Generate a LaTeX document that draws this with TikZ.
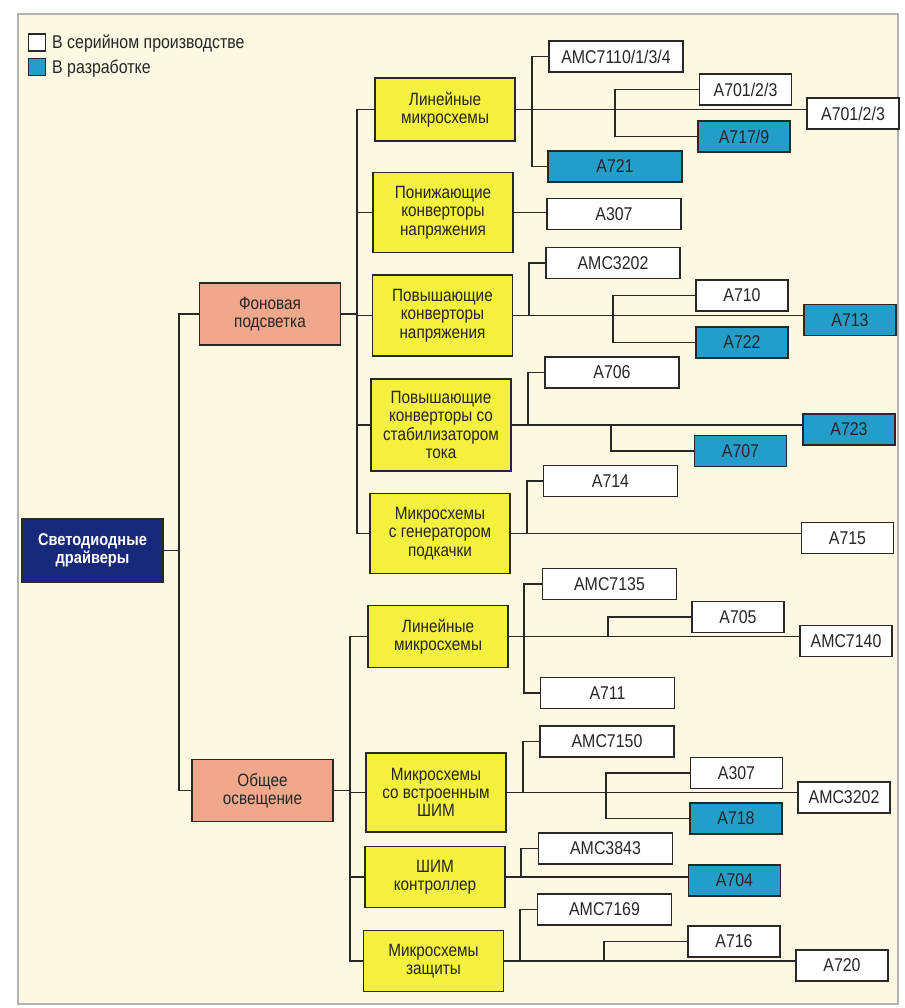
\documentclass[tikz,border=0pt]{standalone}
\usepackage{fontspec}
\setmainfont{Liberation Sans}[FakeStretch=0.86]
\definecolor{bg}{RGB}{252,248,226}
\definecolor{ylw}{RGB}{244,240,62}
\definecolor{slm}{RGB}{240,168,140}
\definecolor{blu}{RGB}{36,158,200}
\definecolor{nvy}{RGB}{24,40,122}
\definecolor{ln}{RGB}{40,40,40}
\definecolor{txt}{RGB}{38,38,38}
\begin{document}
\begin{tikzpicture}[x=1pt,y=-1pt,
  box/.style={draw=ln, line width=1.9, inner sep=0, align=center, text=txt,
    font=\fontsize{17.8}{18.3}\selectfont},
  leafA/.style={box, fill=white, minimum width=134, minimum height=31,
    font=\fontsize{18.5}{19}\selectfont},
  leafB/.style={leafA, minimum width=92},
  dev/.style={fill=blu},
  grp/.style={box, fill=ylw, minimum width=140},
  cat/.style={box, fill=slm, minimum width=141, minimum height=62},
  rootbox/.style={box, fill=nvy, text=white, minimum width=141, minimum height=63,
    font=\fontsize{17}{18.3}\selectfont\bfseries},
  legsq/.style={draw=ln, line width=1.8, minimum size=17, inner sep=0},
  legtxt/.style={anchor=west, inner sep=0, text=txt, font=\fontsize{18.5}{19}\selectfont},
  conn/.style={draw=ln, line width=1.3}]
\useasboundingbox (0,0) rectangle (904,1008);
\fill[white] (0,0) rectangle (904,1008);
\draw[fill=bg, draw=gray!60, line width=1.2] (18,14) rectangle (898,1004);

% legend
\node[legsq, fill=white] (lw) at (37,42.5) {};
\node[legtxt] (lwt) at (52,44) {В серийном производстве};
\node[legsq, fill=blu] (lb) at (37,67) {};
\node[legtxt] (lbt) at (52,68.5) {В разработке};

% root and categories
\node[rootbox] (root) at (92.5,550.5) {Светодиодные\\драйверы};
\node[cat] (fon) at (270,314) {Фоновая\\подсветка};
\node[cat] (obs) at (262.5,790.5) {Общее\\освещение};

% groups
\node[grp, minimum height=63] (y1) at (445,109.5) {Линейные\\микросхемы};
\node[grp, minimum height=80] (y2) at (443,212.5) {Понижающие\\конверторы\\напряжения};
\node[grp, minimum height=81] (y3) at (442.5,315.5) {Повышающие\\конверторы\\напряжения};
\node[grp, minimum height=92] (y4) at (441,425) {Повышающие\\конверторы со\\стабилизатором\\тока};
\node[grp, minimum height=80] (y5) at (440,533.5) {Микросхемы\\с генератором\\подкачки};
\node[grp, minimum height=62] (y6) at (438,636.5) {Линейные\\микросхемы};
\node[grp, minimum height=79] (y7) at (436,792.5) {Микросхемы\\со встроенным\\ШИМ};
\node[grp, minimum height=61] (y8) at (435,877) {ШИМ\\контроллер};
\node[grp, minimum height=61] (y9) at (433.5,961) {Микросхемы\\защиты};

% leaves
\node[leafA] (amc7110) at (616,56.5) {AMC7110/1/3/4};
\node[leafA, dev] (a721) at (615,166.5) {A721};
\node[leafB] (a701m) at (745.5,89.5) {A701/2/3};
\node[leafB, dev] (a717) at (744,136.5) {A717/9};
\node[leafB] (a701r) at (853,113.5) {A701/2/3};

\node[leafA] (a307a) at (614,214) {A307};

\node[leafA] (amc3202a) at (613,263) {AMC3202};
\node[leafB] (a710) at (742,295.5) {A710};
\node[leafB, dev] (a722) at (742,342.5) {A722};
\node[leafB, dev] (a713) at (850,320) {A713};

\node[leafA] (a706) at (612,372.5) {A706};
\node[leafB, dev] (a707) at (740.5,451) {A707};
\node[leafB, dev] (a723) at (849,429.5) {A723};

\node[leafA] (a714) at (610.5,481) {A714};
\node[leafB] (a715) at (847.5,538) {A715};

\node[leafA] (amc7135) at (609.5,584) {AMC7135};
\node[leafA] (a711) at (607.5,693) {A711};
\node[leafB] (a705) at (738,617) {A705};
\node[leafB] (amc7140) at (846,641) {AMC7140};

\node[leafA] (amc7150) at (607,741.5) {AMC7150};
\node[leafB] (a307b) at (736.5,773) {A307};
\node[leafB, dev] (a718) at (736,818.5) {A718};
\node[leafB] (amc3202b) at (844,797.5) {AMC3202};

\node[leafA] (amc3843) at (605.5,848.5) {AMC3843};
\node[leafB, dev] (a704) at (734.5,880.5) {A704};

\node[leafA] (amc7169) at (604.5,909.5) {AMC7169};
\node[leafB] (a716) at (734,941.5) {A716};
\node[leafB] (a720) at (842,965.5) {A720};

% trunk x positions
\coordinate (t1) at (179,0);
\coordinate (t2) at (357,0);
\coordinate (t3) at (350,0);
\coordinate (b1) at (532,0);
\coordinate (c1) at (615,0);
\coordinate (b3) at (529,0);
\coordinate (c3) at (613,0);
\coordinate (b4) at (528,0);
\coordinate (c4) at (611,0);
\coordinate (b5) at (527,0);
\coordinate (b6) at (524,0);
\coordinate (c6) at (608,0);
\coordinate (b7) at (523,0);
\coordinate (c7) at (606,0);
\coordinate (b8) at (521,0);
\coordinate (b9) at (520,0);
\coordinate (c9) at (604,0);

% root to categories
\draw[conn] (root.east) -- (root.east -| t1);
\draw[conn] (fon.west) -| (t1 |- root.east) |- (obs.west);

% categories to groups
\draw[conn] (fon.east) -- (fon.east -| t2);
\draw[conn] (y1.west) -| (t2 |- y5.west) -- (y5.west);
\draw[conn] (y2.west) -- (y2.west -| t2);
\draw[conn] (y3.west) -- (y3.west -| t2);
\draw[conn] (y4.west) -- (y4.west -| t2);
\draw[conn] (obs.east) -- (obs.east -| t3);
\draw[conn] (y6.west) -| (t3 |- y9.west) -- (y9.west);
\draw[conn] (y7.west) -- (y7.west -| t3);
\draw[conn] (y8.west) -- (y8.west -| t3);

% group 1
\draw[conn] (y1.east) -- (y1.east -| a701r.west);
\draw[conn] (amc7110.west) -| (b1 |- y1.east) |- (a721.west);
\draw[conn] (a701m.west) -| (c1 |- y1.east) |- (a717.west);
\draw[conn] (y2.east) -- (y2.east -| a307a.west);
\draw[conn] (y3.east) -- (y3.east -| a713.west);
\draw[conn] (amc3202a.west) -| (b3 |- y3.east);
\draw[conn] (a710.west) -| (c3 |- y3.east) |- (a722.west);
\draw[conn] (y4.east) -- (y4.east -| a723.west);
\draw[conn] (a706.west) -| (b4 |- y4.east);
\draw[conn] (c4 |- y4.east) |- (a707.west);
\draw[conn] (y5.east) -- (y5.east -| a715.west);
\draw[conn] (a714.west) -| (b5 |- y5.east);

% group 2
\draw[conn] (y6.east) -- (y6.east -| amc7140.west);
\draw[conn] (amc7135.west) -| (b6 |- y6.east) |- (a711.west);
\draw[conn] (a705.west) -| (c6 |- y6.east);
\draw[conn] (y7.east) -- (y7.east -| amc3202b.west);
\draw[conn] (amc7150.west) -| (b7 |- y7.east);
\draw[conn] (a307b.west) -| (c7 |- y7.east) |- (a718.west);
\draw[conn] (y8.east) -- (y8.east -| a704.west);
\draw[conn] (amc3843.west) -| (b8 |- y8.east);
\draw[conn] (y9.east) -- (y9.east -| a720.west);
\draw[conn] (amc7169.west) -| (b9 |- y9.east);
\draw[conn] (a716.west) -| (c9 |- y9.east);
\end{tikzpicture}
\end{document}
